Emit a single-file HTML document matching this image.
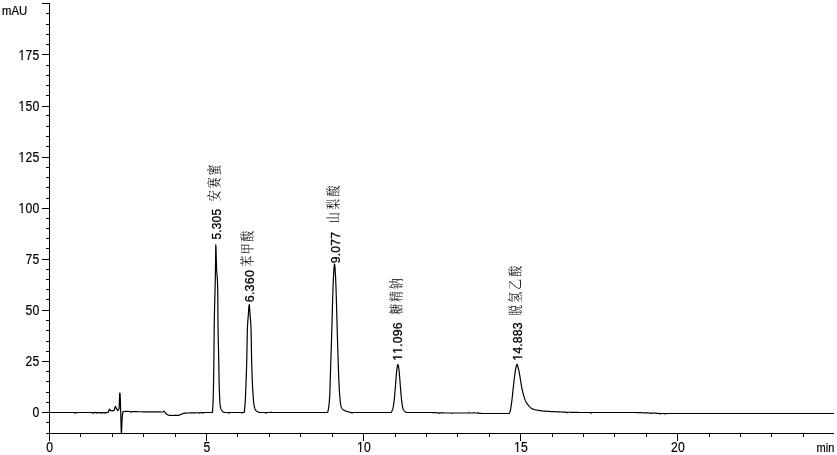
<!DOCTYPE html>
<html><head><meta charset="utf-8"><title>Chromatogram</title>
<style>html,body{margin:0;padding:0;background:#fff}body{width:837px;height:455px;overflow:hidden}svg{will-change:transform}</style>
</head><body>
<svg width="837" height="455" viewBox="0 0 837 455" style="display:block">
<rect width="100%" height="100%" fill="#fff"/>
<g stroke="#000" stroke-width="1" fill="none" shape-rendering="crispEdges">
<path d="M49.5 3 V441"/>
<path d="M46 433.5 H834"/>
<path d="M46 422.5 H49"/>
<path d="M42 412.5 H49"/>
<path d="M46 402.5 H49"/>
<path d="M46 392.5 H49"/>
<path d="M46 381.5 H49"/>
<path d="M46 371.5 H49"/>
<path d="M42 361.5 H49"/>
<path d="M46 351.5 H49"/>
<path d="M46 341.5 H49"/>
<path d="M46 330.5 H49"/>
<path d="M46 320.5 H49"/>
<path d="M42 310.5 H49"/>
<path d="M46 299.5 H49"/>
<path d="M46 289.5 H49"/>
<path d="M46 279.5 H49"/>
<path d="M46 269.5 H49"/>
<path d="M42 259.5 H49"/>
<path d="M46 248.5 H49"/>
<path d="M46 238.5 H49"/>
<path d="M46 228.5 H49"/>
<path d="M46 218.5 H49"/>
<path d="M42 208.5 H49"/>
<path d="M46 198.5 H49"/>
<path d="M46 187.5 H49"/>
<path d="M46 177.5 H49"/>
<path d="M46 167.5 H49"/>
<path d="M42 157.5 H49"/>
<path d="M46 146.5 H49"/>
<path d="M46 136.5 H49"/>
<path d="M46 126.5 H49"/>
<path d="M46 115.5 H49"/>
<path d="M42 106.5 H49"/>
<path d="M46 95.5 H49"/>
<path d="M46 85.5 H49"/>
<path d="M46 75.5 H49"/>
<path d="M46 65.5 H49"/>
<path d="M42 54.5 H49"/>
<path d="M46 44.5 H49"/>
<path d="M46 34.5 H49"/>
<path d="M46 24.5 H49"/>
<path d="M46 13.5 H49"/>
<path d="M42 3.5 H49"/>
<path d="M80.5 433 V437"/>
<path d="M112.5 433 V437"/>
<path d="M143.5 433 V437"/>
<path d="M175.5 433 V437"/>
<path d="M206.5 433 V441"/>
<path d="M237.5 433 V437"/>
<path d="M269.5 433 V437"/>
<path d="M300.5 433 V437"/>
<path d="M332.5 433 V437"/>
<path d="M363.5 433 V441"/>
<path d="M395.5 433 V437"/>
<path d="M426.5 433 V437"/>
<path d="M457.5 433 V437"/>
<path d="M489.5 433 V437"/>
<path d="M520.5 433 V441"/>
<path d="M552.5 433 V437"/>
<path d="M583.5 433 V437"/>
<path d="M614.5 433 V437"/>
<path d="M646.5 433 V437"/>
<path d="M677.5 433 V441"/>
<path d="M709.5 433 V437"/>
<path d="M740.5 433 V437"/>
<path d="M771.5 433 V437"/>
<path d="M803.5 433 V437"/>
</g>
<path d="M49.50 412.50 L49.75 412.50 L50.00 412.50 L50.25 412.50 L50.50 412.50 L50.75 412.50 L51.00 412.50 L51.25 412.50 L51.50 412.50 L51.75 412.50 L52.00 412.50 L52.25 412.50 L52.50 412.50 L52.75 412.50 L53.00 412.50 L53.25 412.50 L53.50 412.50 L53.75 412.50 L54.00 412.50 L54.25 412.50 L54.50 412.50 L54.75 412.50 L55.00 412.50 L55.25 412.50 L55.50 412.50 L55.75 412.50 L56.00 412.50 L56.25 412.50 L56.50 412.50 L56.75 412.50 L57.00 412.50 L57.25 412.50 L57.50 412.50 L57.75 412.50 L58.00 412.50 L58.25 412.50 L58.50 412.50 L58.75 412.50 L59.00 412.50 L59.25 412.50 L59.50 412.50 L59.75 412.50 L60.00 412.50 L60.25 412.50 L60.50 412.50 L60.75 412.50 L61.00 412.50 L61.25 412.50 L61.50 412.50 L61.75 412.50 L62.00 412.50 L62.25 412.50 L62.50 412.50 L62.75 412.50 L63.00 412.50 L63.25 412.50 L63.50 412.50 L63.75 412.50 L64.00 412.50 L64.25 412.50 L64.50 412.50 L64.75 412.50 L65.00 412.50 L65.25 412.50 L65.50 412.50 L65.75 412.50 L66.00 412.50 L66.25 412.50 L66.50 412.50 L66.75 412.50 L67.00 412.50 L67.25 412.50 L67.50 412.50 L67.75 412.50 L68.00 412.50 L68.25 412.50 L68.50 412.50 L68.75 412.50 L69.00 412.50 L69.25 412.50 L69.50 412.50 L69.75 412.50 L70.00 412.50 L70.25 412.50 L70.50 412.50 L70.75 412.50 L71.00 412.50 L71.25 412.50 L71.50 412.50 L71.75 412.50 L72.00 412.50 L72.25 412.50 L72.50 412.50 L72.75 412.50 L73.00 412.50 L73.25 412.50 L73.50 412.50 L73.75 412.53 L74.00 412.62 L74.25 412.81 L74.50 412.98 L74.75 412.96 L75.00 412.76 L75.25 412.60 L75.50 412.56 L75.75 412.65 L76.00 412.85 L76.25 413.00 L76.50 412.93 L76.75 412.72 L77.00 412.57 L77.25 412.51 L77.50 412.50 L77.75 412.50 L78.00 412.50 L78.25 412.50 L78.50 412.50 L78.75 412.50 L79.00 412.50 L79.25 412.50 L79.50 412.50 L79.75 412.50 L80.00 412.50 L80.25 412.50 L80.50 412.50 L80.75 412.50 L81.00 412.50 L81.25 412.50 L81.50 412.50 L81.75 412.50 L82.00 412.50 L82.25 412.50 L82.50 412.50 L82.75 412.50 L83.00 412.50 L83.25 412.50 L83.50 412.50 L83.75 412.50 L84.00 412.50 L84.25 412.50 L84.50 412.50 L84.75 412.50 L85.00 412.50 L85.25 412.50 L85.50 412.50 L85.75 412.50 L86.00 412.50 L86.25 412.50 L86.50 412.50 L86.75 412.50 L87.00 412.50 L87.25 412.50 L87.50 412.50 L87.75 412.50 L88.00 412.50 L88.25 412.50 L88.50 412.50 L88.75 412.50 L89.00 412.50 L89.25 412.50 L89.50 412.50 L89.75 412.50 L90.00 412.50 L90.25 412.50 L90.50 412.50 L90.75 412.50 L91.00 412.50 L91.25 412.50 L91.50 412.51 L91.75 412.56 L92.00 412.72 L92.25 412.97 L92.50 413.10 L92.75 412.97 L93.00 412.72 L93.25 412.56 L93.50 412.52 L93.75 412.55 L94.00 412.68 L94.25 412.89 L94.50 412.99 L94.75 412.86 L95.00 412.57 L95.25 412.32 L95.50 412.21 L95.75 412.27 L96.00 412.40 L96.25 412.53 L96.50 412.72 L96.75 412.97 L97.00 413.10 L97.25 412.97 L97.50 412.72 L97.75 412.56 L98.00 412.51 L98.25 412.50 L98.50 412.51 L98.75 412.55 L99.00 412.68 L99.25 412.89 L99.50 413.00 L99.75 412.89 L100.00 412.68 L100.25 412.55 L100.50 412.52 L100.75 412.56 L101.00 412.72 L101.25 412.97 L101.50 413.10 L101.75 412.97 L102.00 412.72 L102.25 412.56 L102.50 412.51 L102.75 412.50 L103.00 412.51 L103.25 412.57 L103.50 412.76 L103.75 413.05 L104.00 413.20 L104.25 413.05 L104.50 412.76 L104.75 412.57 L105.00 412.52 L105.25 412.55 L105.50 412.68 L105.75 412.89 L106.00 413.00 L106.25 412.87 L106.50 412.64 L106.75 412.49 L107.00 412.42 L107.25 412.39 L107.50 412.37 L107.75 412.35 L108.00 412.33 L108.25 412.30 L108.50 411.68 L108.75 410.91 L109.00 410.14 L109.25 409.36 L109.50 409.05 L109.75 409.43 L110.00 409.80 L110.25 410.18 L110.50 410.55 L110.75 410.70 L111.00 410.70 L111.25 410.70 L111.50 410.70 L111.75 410.70 L112.00 410.70 L112.25 410.70 L112.50 410.70 L112.75 410.70 L113.00 410.70 L113.25 410.70 L113.50 410.70 L113.75 410.70 L114.00 410.70 L114.25 409.90 L114.50 409.09 L114.75 408.29 L115.00 407.49 L115.25 406.68 L115.50 406.43 L115.75 407.02 L116.00 407.60 L116.25 408.18 L116.50 408.77 L116.75 409.21 L117.00 409.57 L117.25 409.92 L117.50 410.27 L117.75 410.63 L118.00 410.30 L118.25 409.80 L118.50 409.30 L118.75 409.02 L119.00 408.90 L119.25 406.83 L119.50 396.95 L119.75 393.00 L120.00 393.00 L120.25 397.35 L120.50 404.60 L120.75 413.18 L121.00 422.64 L121.25 432.11 L121.50 433.00 L121.75 427.25 L122.00 420.50 L122.25 417.37 L122.50 414.25 L122.75 412.65 L123.00 412.07 L123.25 411.59 L123.50 411.57 L123.75 411.54 L124.00 411.51 L124.25 411.48 L124.50 411.46 L124.75 411.43 L125.00 411.40 L125.25 411.40 L125.50 411.41 L125.75 411.42 L126.00 411.42 L126.25 411.43 L126.50 411.43 L126.75 411.44 L127.00 411.44 L127.25 411.44 L127.50 411.45 L127.75 411.45 L128.00 411.46 L128.25 411.46 L128.50 411.47 L128.75 411.48 L129.00 411.48 L129.25 411.49 L129.50 411.49 L129.75 411.50 L130.00 411.50 L130.25 411.66 L130.50 411.82 L130.75 411.98 L131.00 412.14 L131.25 412.10 L131.50 411.95 L131.75 411.79 L132.00 411.63 L132.25 411.50 L132.50 411.52 L132.75 411.54 L133.00 411.56 L133.25 411.57 L133.50 411.59 L133.75 411.61 L134.00 411.63 L134.25 411.65 L134.50 411.66 L134.75 411.68 L135.00 411.70 L135.25 411.70 L135.50 411.71 L135.75 411.71 L136.00 411.71 L136.25 411.71 L136.50 411.72 L136.75 411.72 L137.00 411.72 L137.25 411.72 L137.50 411.73 L137.75 411.73 L138.00 411.73 L138.25 411.73 L138.50 411.74 L138.75 411.74 L139.00 411.74 L139.25 411.75 L139.50 411.75 L139.75 411.75 L140.00 411.75 L140.25 411.76 L140.50 411.76 L140.75 411.76 L141.00 411.76 L141.25 411.77 L141.50 411.77 L141.75 411.77 L142.00 411.77 L142.25 411.78 L142.50 411.78 L142.75 411.78 L143.00 411.79 L143.25 411.79 L143.50 411.79 L143.75 411.79 L144.00 411.80 L144.25 411.80 L144.50 411.80 L144.75 411.80 L145.00 411.81 L145.25 411.81 L145.50 411.81 L145.75 411.82 L146.00 411.82 L146.25 411.82 L146.50 411.82 L146.75 411.83 L147.00 411.83 L147.25 411.83 L147.50 411.83 L147.75 411.84 L148.00 411.84 L148.25 411.84 L148.50 411.84 L148.75 411.85 L149.00 411.85 L149.25 411.85 L149.50 411.86 L149.75 411.86 L150.00 411.86 L150.25 411.86 L150.50 411.87 L150.75 411.87 L151.00 411.87 L151.25 411.87 L151.50 411.88 L151.75 411.88 L152.00 411.88 L152.25 411.88 L152.50 411.89 L152.75 411.89 L153.00 411.89 L153.25 411.90 L153.50 411.90 L153.75 411.90 L154.00 411.90 L154.25 411.91 L154.50 411.91 L154.75 411.91 L155.00 411.91 L155.25 411.92 L155.50 411.92 L155.75 411.92 L156.00 411.93 L156.25 411.93 L156.50 411.93 L156.75 411.93 L157.00 411.94 L157.25 411.94 L157.50 411.94 L157.75 411.94 L158.00 411.95 L158.25 411.95 L158.50 411.95 L158.75 411.95 L159.00 411.96 L159.25 411.96 L159.50 411.96 L159.75 411.97 L160.00 411.97 L160.25 411.97 L160.50 411.97 L160.75 411.98 L161.00 411.98 L161.25 411.98 L161.50 411.98 L161.75 411.99 L162.00 411.99 L162.25 411.99 L162.50 411.99 L162.75 412.00 L163.00 412.00 L163.25 411.80 L163.50 411.60 L163.75 411.40 L164.00 411.20 L164.25 411.43 L164.50 411.65 L164.75 411.88 L165.00 412.10 L165.25 412.43 L165.50 412.77 L165.75 413.10 L166.00 413.43 L166.25 413.77 L166.50 414.10 L166.75 414.25 L167.00 414.41 L167.25 414.56 L167.50 414.71 L167.75 414.86 L168.00 415.02 L168.25 415.17 L168.50 415.22 L168.75 415.24 L169.00 415.26 L169.25 415.28 L169.50 415.30 L169.75 415.32 L170.00 415.34 L170.25 415.36 L170.50 415.38 L170.75 415.40 L171.00 415.42 L171.25 415.44 L171.50 415.46 L171.75 415.48 L172.00 415.50 L172.25 415.50 L172.50 415.49 L172.75 415.49 L173.00 415.48 L173.25 415.48 L173.50 415.48 L173.75 415.47 L174.00 415.47 L174.25 415.47 L174.50 415.46 L174.75 415.46 L175.00 415.45 L175.25 415.45 L175.50 415.45 L175.75 415.44 L176.00 415.44 L176.25 415.44 L176.50 415.43 L176.75 415.43 L177.00 415.42 L177.25 415.42 L177.50 415.42 L177.75 415.41 L178.00 415.41 L178.25 415.41 L178.50 415.40 L178.75 415.33 L179.00 415.22 L179.25 415.10 L179.50 414.99 L179.75 414.87 L180.00 414.76 L180.25 414.64 L180.50 414.53 L180.75 414.41 L181.00 414.30 L181.25 414.21 L181.50 414.12 L181.75 414.03 L182.00 413.94 L182.25 413.85 L182.50 413.75 L182.75 413.66 L183.00 413.57 L183.25 413.48 L183.50 413.39 L183.75 413.30 L184.00 413.21 L184.25 413.12 L184.50 413.09 L184.75 413.09 L185.00 413.08 L185.25 413.07 L185.50 413.07 L185.75 413.06 L186.00 413.05 L186.25 413.05 L186.50 413.04 L186.75 413.03 L187.00 413.02 L187.25 413.02 L187.50 413.01 L187.75 413.00 L188.00 413.00 L188.25 412.99 L188.50 412.98 L188.75 412.98 L189.00 412.97 L189.25 412.96 L189.50 412.95 L189.75 412.95 L190.00 412.94 L190.25 412.93 L190.50 412.93 L190.75 412.92 L191.00 412.91 L191.25 412.91 L191.50 412.90 L191.75 412.89 L192.00 412.88 L192.25 412.88 L192.50 412.87 L192.75 412.86 L193.00 412.86 L193.25 412.85 L193.50 412.84 L193.75 412.84 L194.00 412.83 L194.25 412.82 L194.50 412.81 L194.75 412.81 L195.00 412.80 L195.25 412.79 L195.50 412.79 L195.75 412.78 L196.00 412.77 L196.25 412.76 L196.50 412.76 L196.75 412.75 L197.00 412.74 L197.25 412.73 L197.50 412.73 L197.75 412.72 L198.00 412.72 L198.25 412.76 L198.50 412.88 L198.75 413.08 L199.00 413.18 L199.25 413.06 L199.50 412.85 L199.75 412.71 L200.00 412.66 L200.25 412.64 L200.50 412.64 L200.75 412.63 L201.00 412.62 L201.25 412.61 L201.50 412.61 L201.75 412.60 L202.00 412.60 L202.25 412.65 L202.50 412.80 L202.75 413.03 L203.00 413.16 L203.25 413.02 L203.50 412.77 L203.75 412.60 L204.00 412.54 L204.25 412.52 L204.50 412.52 L204.75 412.51 L205.00 412.50 L205.25 412.50 L205.50 412.50 L205.75 412.50 L206.00 412.50 L206.25 412.50 L206.50 412.50 L206.75 412.50 L207.00 412.50 L207.25 412.50 L207.50 412.50 L207.75 412.50 L208.00 412.50 L208.25 412.50 L208.50 412.50 L208.75 412.50 L209.00 412.50 L209.25 412.50 L209.50 412.50 L209.75 412.50 L210.00 412.50 L210.25 412.50 L210.50 412.50 L210.75 412.50 L211.00 412.50 L211.25 412.50 L211.50 412.50 L211.75 412.50 L212.00 412.50 L212.25 412.50 L212.50 411.50 L212.75 408.22 L213.00 403.72 L213.25 396.04 L213.50 385.48 L213.75 369.87 L214.00 348.31 L214.25 323.14 L214.50 310.48 L214.75 301.14 L215.00 291.90 L215.25 280.53 L215.50 267.25 L215.75 244.92 L216.00 247.34 L216.25 257.96 L216.50 267.25 L216.75 271.70 L217.00 274.53 L217.25 277.34 L217.50 281.75 L217.75 291.13 L218.00 326.36 L218.25 339.56 L218.50 348.97 L218.75 361.67 L219.00 376.61 L219.25 386.99 L219.50 394.00 L219.75 399.78 L220.00 403.91 L220.25 406.01 L220.50 407.21 L220.75 408.19 L221.00 408.97 L221.25 409.58 L221.50 410.05 L221.75 410.41 L222.00 410.70 L222.25 410.98 L222.50 411.24 L222.75 411.48 L223.00 411.69 L223.25 411.89 L223.50 412.06 L223.75 412.21 L224.00 412.33 L224.25 412.42 L224.50 412.47 L224.75 412.50 L225.00 412.50 L225.25 412.50 L225.50 412.50 L225.75 412.50 L226.00 412.50 L226.25 412.50 L226.50 412.50 L226.75 412.50 L227.00 412.50 L227.25 412.50 L227.50 412.50 L227.75 412.50 L228.00 412.51 L228.25 412.56 L228.50 412.72 L228.75 412.97 L229.00 413.10 L229.25 412.97 L229.50 412.72 L229.75 412.56 L230.00 412.51 L230.25 412.50 L230.50 412.50 L230.75 412.50 L231.00 412.50 L231.25 412.50 L231.50 412.50 L231.75 412.50 L232.00 412.50 L232.25 412.50 L232.50 412.50 L232.75 412.50 L233.00 412.50 L233.25 412.50 L233.50 412.50 L233.75 412.50 L234.00 412.50 L234.25 412.50 L234.50 412.50 L234.75 412.50 L235.00 412.50 L235.25 412.50 L235.50 412.50 L235.75 412.50 L236.00 412.50 L236.25 412.50 L236.50 412.50 L236.75 412.50 L237.00 412.50 L237.25 412.50 L237.50 412.50 L237.75 412.50 L238.00 412.50 L238.25 412.50 L238.50 412.50 L238.75 412.50 L239.00 412.50 L239.25 412.50 L239.50 412.50 L239.75 412.50 L240.00 412.50 L240.25 412.50 L240.50 412.50 L240.75 412.50 L241.00 412.51 L241.25 412.55 L241.50 412.68 L241.75 412.89 L242.00 413.00 L242.25 412.89 L242.50 412.68 L242.75 412.55 L243.00 412.51 L243.25 412.50 L243.50 412.50 L243.75 412.50 L244.00 412.50 L244.25 411.77 L244.50 410.05 L244.75 407.67 L245.00 404.94 L245.25 401.19 L245.50 395.95 L245.75 389.80 L246.00 383.34 L246.25 376.64 L246.50 369.11 L246.75 360.41 L247.00 348.24 L247.25 333.85 L247.50 326.11 L247.75 321.95 L248.00 318.85 L248.25 315.94 L248.50 312.35 L248.75 308.43 L249.00 305.41 L249.25 304.56 L249.50 306.43 L249.75 309.96 L250.00 313.90 L250.25 317.14 L250.50 320.02 L250.75 323.44 L251.00 328.26 L251.25 339.25 L251.50 353.88 L251.75 364.19 L252.00 372.84 L252.25 379.99 L252.50 385.28 L252.75 389.88 L253.00 394.06 L253.25 397.73 L253.50 400.82 L253.75 403.25 L254.00 404.94 L254.25 406.17 L254.50 407.26 L254.75 408.20 L255.00 409.00 L255.25 409.63 L255.50 410.09 L255.75 410.39 L256.00 410.61 L256.25 410.83 L256.50 411.03 L256.75 411.22 L257.00 411.39 L257.25 411.56 L257.50 411.71 L257.75 411.85 L258.00 411.97 L258.25 412.08 L258.50 412.18 L258.75 412.27 L259.00 412.34 L259.25 412.40 L259.50 412.45 L259.75 412.48 L260.00 412.50 L260.25 412.50 L260.50 412.50 L260.75 412.50 L261.00 412.50 L261.25 412.50 L261.50 412.50 L261.75 412.50 L262.00 412.50 L262.25 412.50 L262.50 412.50 L262.75 412.50 L263.00 412.50 L263.25 412.50 L263.50 412.50 L263.75 412.50 L264.00 412.50 L264.25 412.50 L264.50 412.50 L264.75 412.50 L265.00 412.51 L265.25 412.57 L265.50 412.76 L265.75 413.05 L266.00 413.20 L266.25 413.05 L266.50 412.76 L266.75 412.57 L267.00 412.51 L267.25 412.50 L267.50 412.50 L267.75 412.50 L268.00 412.50 L268.25 412.50 L268.50 412.50 L268.75 412.50 L269.00 412.50 L269.25 412.50 L269.50 412.50 L269.75 412.50 L270.00 412.49 L270.25 412.46 L270.50 412.35 L270.75 412.19 L271.00 412.10 L271.25 412.19 L271.50 412.35 L271.75 412.46 L272.00 412.49 L272.25 412.50 L272.50 412.50 L272.75 412.50 L273.00 412.50 L273.25 412.50 L273.50 412.50 L273.75 412.50 L274.00 412.50 L274.25 412.50 L274.50 412.50 L274.75 412.50 L275.00 412.50 L275.25 412.50 L275.50 412.50 L275.75 412.50 L276.00 412.50 L276.25 412.50 L276.50 412.50 L276.75 412.50 L277.00 412.50 L277.25 412.50 L277.50 412.50 L277.75 412.50 L278.00 412.50 L278.25 412.50 L278.50 412.50 L278.75 412.50 L279.00 412.50 L279.25 412.50 L279.50 412.50 L279.75 412.50 L280.00 412.50 L280.25 412.50 L280.50 412.50 L280.75 412.50 L281.00 412.50 L281.25 412.50 L281.50 412.50 L281.75 412.50 L282.00 412.50 L282.25 412.50 L282.50 412.50 L282.75 412.50 L283.00 412.50 L283.25 412.50 L283.50 412.50 L283.75 412.50 L284.00 412.50 L284.25 412.50 L284.50 412.50 L284.75 412.50 L285.00 412.50 L285.25 412.50 L285.50 412.50 L285.75 412.50 L286.00 412.50 L286.25 412.50 L286.50 412.50 L286.75 412.50 L287.00 412.50 L287.25 412.50 L287.50 412.50 L287.75 412.50 L288.00 412.50 L288.25 412.50 L288.50 412.50 L288.75 412.50 L289.00 412.50 L289.25 412.50 L289.50 412.50 L289.75 412.50 L290.00 412.50 L290.25 412.50 L290.50 412.50 L290.75 412.50 L291.00 412.50 L291.25 412.50 L291.50 412.50 L291.75 412.50 L292.00 412.50 L292.25 412.50 L292.50 412.50 L292.75 412.50 L293.00 412.50 L293.25 412.50 L293.50 412.50 L293.75 412.50 L294.00 412.50 L294.25 412.50 L294.50 412.50 L294.75 412.50 L295.00 412.50 L295.25 412.50 L295.50 412.50 L295.75 412.50 L296.00 412.50 L296.25 412.50 L296.50 412.50 L296.75 412.50 L297.00 412.50 L297.25 412.50 L297.50 412.50 L297.75 412.50 L298.00 412.50 L298.25 412.50 L298.50 412.50 L298.75 412.50 L299.00 412.50 L299.25 412.50 L299.50 412.50 L299.75 412.50 L300.00 412.50 L300.25 412.50 L300.50 412.50 L300.75 412.50 L301.00 412.50 L301.25 412.50 L301.50 412.50 L301.75 412.50 L302.00 412.50 L302.25 412.50 L302.50 412.50 L302.75 412.50 L303.00 412.50 L303.25 412.50 L303.50 412.50 L303.75 412.50 L304.00 412.50 L304.25 412.50 L304.50 412.50 L304.75 412.50 L305.00 412.50 L305.25 412.50 L305.50 412.50 L305.75 412.50 L306.00 412.50 L306.25 412.50 L306.50 412.50 L306.75 412.50 L307.00 412.50 L307.25 412.50 L307.50 412.50 L307.75 412.50 L308.00 412.50 L308.25 412.50 L308.50 412.50 L308.75 412.50 L309.00 412.50 L309.25 412.50 L309.50 412.50 L309.75 412.50 L310.00 412.50 L310.25 412.50 L310.50 412.50 L310.75 412.50 L311.00 412.50 L311.25 412.50 L311.50 412.50 L311.75 412.50 L312.00 412.50 L312.25 412.50 L312.50 412.50 L312.75 412.50 L313.00 412.50 L313.25 412.50 L313.50 412.50 L313.75 412.50 L314.00 412.50 L314.25 412.50 L314.50 412.50 L314.75 412.50 L315.00 412.50 L315.25 412.50 L315.50 412.50 L315.75 412.50 L316.00 412.50 L316.25 412.50 L316.50 412.50 L316.75 412.50 L317.00 412.50 L317.25 412.50 L317.50 412.50 L317.75 412.50 L318.00 412.50 L318.25 412.50 L318.50 412.50 L318.75 412.50 L319.00 412.50 L319.25 412.50 L319.50 412.50 L319.75 412.50 L320.00 412.50 L320.25 412.50 L320.50 412.50 L320.75 412.50 L321.00 412.50 L321.25 412.50 L321.50 412.50 L321.75 412.50 L322.00 412.50 L322.25 412.50 L322.50 412.50 L322.75 412.50 L323.00 412.50 L323.25 412.50 L323.50 412.50 L323.75 412.50 L324.00 412.50 L324.25 412.50 L324.50 412.50 L324.75 412.50 L325.00 412.50 L325.25 412.50 L325.50 412.50 L325.75 412.50 L326.00 412.50 L326.25 412.50 L326.50 412.50 L326.75 412.50 L327.00 412.50 L327.25 412.50 L327.50 412.50 L327.75 412.06 L328.00 411.20 L328.25 410.01 L328.50 408.63 L328.75 407.08 L329.00 405.04 L329.25 402.41 L329.50 399.15 L329.75 394.66 L330.00 387.48 L330.25 379.04 L330.50 371.03 L330.75 363.49 L331.00 355.89 L331.25 348.13 L331.50 340.11 L331.75 331.60 L332.00 322.52 L332.25 313.35 L332.50 304.55 L332.75 296.28 L333.00 288.01 L333.25 281.01 L333.50 276.10 L333.75 271.59 L334.00 267.72 L334.25 265.02 L334.50 264.00 L334.75 265.02 L335.00 267.72 L335.25 271.59 L335.50 276.10 L335.75 281.01 L336.00 288.01 L336.25 296.28 L336.50 304.55 L336.75 313.35 L337.00 322.52 L337.25 331.60 L337.50 340.13 L337.75 348.52 L338.00 356.78 L338.25 364.50 L338.50 371.30 L338.75 377.24 L339.00 382.91 L339.25 388.13 L339.50 392.67 L339.75 396.33 L340.00 399.03 L340.25 401.39 L340.50 403.43 L340.75 405.08 L341.00 406.24 L341.25 406.95 L341.50 407.52 L341.75 408.00 L342.00 408.42 L342.25 408.77 L342.50 409.06 L342.75 409.31 L343.00 409.53 L343.25 409.73 L343.50 409.91 L343.75 410.08 L344.00 410.24 L344.25 410.38 L344.50 410.52 L344.75 410.65 L345.00 410.76 L345.25 410.87 L345.50 410.97 L345.75 411.07 L346.00 411.15 L346.25 411.24 L346.50 411.31 L346.75 411.39 L347.00 411.46 L347.25 411.53 L347.50 411.61 L347.75 411.68 L348.00 411.75 L348.25 411.82 L348.50 411.88 L348.75 411.95 L349.00 412.01 L349.25 412.07 L349.50 412.13 L349.75 412.18 L350.00 412.23 L350.25 412.28 L350.50 412.32 L350.75 412.36 L351.00 412.41 L351.25 412.49 L351.50 412.67 L351.75 412.94 L352.00 413.09 L352.25 412.96 L352.50 412.72 L352.75 412.56 L353.00 412.51 L353.25 412.50 L353.50 412.50 L353.75 412.50 L354.00 412.50 L354.25 412.50 L354.50 412.50 L354.75 412.50 L355.00 412.50 L355.25 412.50 L355.50 412.50 L355.75 412.50 L356.00 412.50 L356.25 412.50 L356.50 412.50 L356.75 412.50 L357.00 412.50 L357.25 412.50 L357.50 412.50 L357.75 412.50 L358.00 412.50 L358.25 412.50 L358.50 412.50 L358.75 412.50 L359.00 412.50 L359.25 412.50 L359.50 412.50 L359.75 412.50 L360.00 412.50 L360.25 412.50 L360.50 412.50 L360.75 412.50 L361.00 412.50 L361.25 412.50 L361.50 412.50 L361.75 412.50 L362.00 412.50 L362.25 412.50 L362.50 412.50 L362.75 412.50 L363.00 412.50 L363.25 412.50 L363.50 412.50 L363.75 412.50 L364.00 412.50 L364.25 412.50 L364.50 412.50 L364.75 412.50 L365.00 412.50 L365.25 412.50 L365.50 412.50 L365.75 412.50 L366.00 412.50 L366.25 412.50 L366.50 412.50 L366.75 412.50 L367.00 412.50 L367.25 412.50 L367.50 412.50 L367.75 412.50 L368.00 412.50 L368.25 412.50 L368.50 412.50 L368.75 412.50 L369.00 412.50 L369.25 412.50 L369.50 412.50 L369.75 412.50 L370.00 412.50 L370.25 412.50 L370.50 412.50 L370.75 412.50 L371.00 412.50 L371.25 412.50 L371.50 412.50 L371.75 412.50 L372.00 412.50 L372.25 412.50 L372.50 412.50 L372.75 412.50 L373.00 412.50 L373.25 412.50 L373.50 412.50 L373.75 412.50 L374.00 412.50 L374.25 412.50 L374.50 412.50 L374.75 412.50 L375.00 412.50 L375.25 412.50 L375.50 412.50 L375.75 412.50 L376.00 412.50 L376.25 412.50 L376.50 412.50 L376.75 412.50 L377.00 412.50 L377.25 412.50 L377.50 412.50 L377.75 412.50 L378.00 412.50 L378.25 412.50 L378.50 412.50 L378.75 412.50 L379.00 412.50 L379.25 412.50 L379.50 412.50 L379.75 412.50 L380.00 412.50 L380.25 412.50 L380.50 412.50 L380.75 412.50 L381.00 412.50 L381.25 412.50 L381.50 412.50 L381.75 412.50 L382.00 412.50 L382.25 412.50 L382.50 412.50 L382.75 412.50 L383.00 412.50 L383.25 412.50 L383.50 412.50 L383.75 412.50 L384.00 412.50 L384.25 412.50 L384.50 412.50 L384.75 412.50 L385.00 412.50 L385.25 412.50 L385.50 412.50 L385.75 412.50 L386.00 412.50 L386.25 412.50 L386.50 412.50 L386.75 412.50 L387.00 412.50 L387.25 412.50 L387.50 412.50 L387.75 412.50 L388.00 412.50 L388.25 412.50 L388.50 412.50 L388.75 412.50 L389.00 412.50 L389.25 412.50 L389.50 412.50 L389.75 412.50 L390.00 412.50 L390.25 412.50 L390.50 412.50 L390.75 412.50 L391.00 412.50 L391.25 412.50 L391.50 412.09 L391.75 411.53 L392.00 410.91 L392.25 410.29 L392.50 409.63 L392.75 408.88 L393.00 407.99 L393.25 406.86 L393.50 405.40 L393.75 403.66 L394.00 401.71 L394.25 399.62 L394.50 397.25 L394.75 394.49 L395.00 391.52 L395.25 388.51 L395.50 385.39 L395.75 382.09 L396.00 378.85 L396.25 375.83 L396.50 372.84 L396.75 370.22 L397.00 368.41 L397.25 366.80 L397.50 365.47 L397.75 364.65 L398.00 364.57 L398.25 365.26 L398.50 366.50 L398.75 368.08 L399.00 369.79 L399.25 372.26 L399.50 375.24 L399.75 378.22 L400.00 381.43 L400.25 384.73 L400.50 387.91 L400.75 390.92 L401.00 393.91 L401.25 396.72 L401.50 399.18 L401.75 401.31 L402.00 403.34 L402.25 405.16 L402.50 406.68 L402.75 407.78 L403.00 408.62 L403.25 409.36 L403.50 409.95 L403.75 410.40 L404.00 410.68 L404.25 410.92 L404.50 411.14 L404.75 411.35 L405.00 411.55 L405.25 411.73 L405.50 411.89 L405.75 412.03 L406.00 412.16 L406.25 412.27 L406.50 412.36 L406.75 412.42 L407.00 412.47 L407.25 412.50 L407.50 412.50 L407.75 412.50 L408.00 412.50 L408.25 412.50 L408.50 412.50 L408.75 412.50 L409.00 412.50 L409.25 412.50 L409.50 412.50 L409.75 412.50 L410.00 412.50 L410.25 412.50 L410.50 412.50 L410.75 412.50 L411.00 412.50 L411.25 412.50 L411.50 412.50 L411.75 412.50 L412.00 412.50 L412.25 412.50 L412.50 412.50 L412.75 412.50 L413.00 412.50 L413.25 412.50 L413.50 412.50 L413.75 412.50 L414.00 412.50 L414.25 412.50 L414.50 412.50 L414.75 412.50 L415.00 412.50 L415.25 412.50 L415.50 412.50 L415.75 412.50 L416.00 412.50 L416.25 412.50 L416.50 412.50 L416.75 412.50 L417.00 412.50 L417.25 412.50 L417.50 412.50 L417.75 412.50 L418.00 412.50 L418.25 412.50 L418.50 412.50 L418.75 412.50 L419.00 412.50 L419.25 412.50 L419.50 412.50 L419.75 412.50 L420.00 412.50 L420.25 412.50 L420.50 412.50 L420.75 412.50 L421.00 412.50 L421.25 412.50 L421.50 412.50 L421.75 412.50 L422.00 412.50 L422.25 412.50 L422.50 412.50 L422.75 412.50 L423.00 412.50 L423.25 412.50 L423.50 412.50 L423.75 412.50 L424.00 412.50 L424.25 412.50 L424.50 412.50 L424.75 412.50 L425.00 412.50 L425.25 412.50 L425.50 412.50 L425.75 412.50 L426.00 412.50 L426.25 412.50 L426.50 412.50 L426.75 412.50 L427.00 412.50 L427.25 412.50 L427.50 412.50 L427.75 412.50 L428.00 412.50 L428.25 412.50 L428.50 412.50 L428.75 412.50 L429.00 412.50 L429.25 412.50 L429.50 412.50 L429.75 412.50 L430.00 412.50 L430.25 412.50 L430.50 412.50 L430.75 412.50 L431.00 412.50 L431.25 412.50 L431.50 412.50 L431.75 412.50 L432.00 412.50 L432.25 412.51 L432.50 412.52 L432.75 412.54 L433.00 412.55 L433.25 412.56 L433.50 412.57 L433.75 412.59 L434.00 412.60 L434.25 412.61 L434.50 412.62 L434.75 412.64 L435.00 412.65 L435.25 412.66 L435.50 412.68 L435.75 412.69 L436.00 412.70 L436.25 412.71 L436.50 412.73 L436.75 412.74 L437.00 412.75 L437.25 412.76 L437.50 412.78 L437.75 412.79 L438.00 412.81 L438.25 412.87 L438.50 413.01 L438.75 413.23 L439.00 413.35 L439.25 413.25 L439.50 413.06 L439.75 412.94 L440.00 412.91 L440.25 412.91 L440.50 412.93 L440.75 412.94 L441.00 412.95 L441.25 412.96 L441.50 412.97 L441.75 412.99 L442.00 412.99 L442.25 412.97 L442.50 412.89 L442.75 412.77 L443.00 412.70 L443.25 412.77 L443.50 412.89 L443.75 412.97 L444.00 412.99 L444.25 413.00 L444.50 413.00 L444.75 413.00 L445.00 413.00 L445.25 413.00 L445.50 413.00 L445.75 413.00 L446.00 413.00 L446.25 413.00 L446.50 413.00 L446.75 413.00 L447.00 413.00 L447.25 413.00 L447.50 413.00 L447.75 413.00 L448.00 413.00 L448.25 413.00 L448.50 413.00 L448.75 413.00 L449.00 413.00 L449.25 413.00 L449.50 413.00 L449.75 413.00 L450.00 413.00 L450.25 413.00 L450.50 413.00 L450.75 413.00 L451.00 413.01 L451.25 413.04 L451.50 413.15 L451.75 413.31 L452.00 413.40 L452.25 413.31 L452.50 413.15 L452.75 413.04 L453.00 413.01 L453.25 413.00 L453.50 413.00 L453.75 413.00 L454.00 413.00 L454.25 413.00 L454.50 413.00 L454.75 413.00 L455.00 413.00 L455.25 413.00 L455.50 413.00 L455.75 413.00 L456.00 413.00 L456.25 413.00 L456.50 413.00 L456.75 413.00 L457.00 413.00 L457.25 413.00 L457.50 413.00 L457.75 413.00 L458.00 413.00 L458.25 413.00 L458.50 413.00 L458.75 413.00 L459.00 413.00 L459.25 413.00 L459.50 413.00 L459.75 413.00 L460.00 413.00 L460.25 413.00 L460.50 413.00 L460.75 413.00 L461.00 413.00 L461.25 413.00 L461.50 413.00 L461.75 413.00 L462.00 413.00 L462.25 413.00 L462.50 413.00 L462.75 413.00 L463.00 413.00 L463.25 413.00 L463.50 413.00 L463.75 413.00 L464.00 413.00 L464.25 413.00 L464.50 413.00 L464.75 413.00 L465.00 413.00 L465.25 413.00 L465.50 413.00 L465.75 413.00 L466.00 413.00 L466.25 413.00 L466.50 413.00 L466.75 413.00 L467.00 413.00 L467.25 413.00 L467.50 413.00 L467.75 413.00 L468.00 412.99 L468.25 412.95 L468.50 412.82 L468.75 412.61 L469.00 412.50 L469.25 412.61 L469.50 412.82 L469.75 412.95 L470.00 412.99 L470.25 413.00 L470.50 413.00 L470.75 413.00 L471.00 413.00 L471.25 413.00 L471.50 413.00 L471.75 413.00 L472.00 413.00 L472.25 413.00 L472.50 413.00 L472.75 413.00 L473.00 412.99 L473.25 412.96 L473.50 412.85 L473.75 412.69 L474.00 412.60 L474.25 412.69 L474.50 412.85 L474.75 412.96 L475.00 412.99 L475.25 413.00 L475.50 413.00 L475.75 413.00 L476.00 413.00 L476.25 413.02 L476.50 413.04 L476.75 413.06 L477.00 413.07 L477.25 413.05 L477.50 412.94 L477.75 412.76 L478.00 412.67 L478.25 412.80 L478.50 413.02 L478.75 413.18 L479.00 413.24 L479.25 413.27 L479.50 413.29 L479.75 413.31 L480.00 413.33 L480.25 413.35 L480.50 413.37 L480.75 413.40 L481.00 413.42 L481.25 413.44 L481.50 413.46 L481.75 413.48 L482.00 413.50 L482.25 413.50 L482.50 413.50 L482.75 413.50 L483.00 413.50 L483.25 413.50 L483.50 413.50 L483.75 413.50 L484.00 413.50 L484.25 413.50 L484.50 413.50 L484.75 413.50 L485.00 413.50 L485.25 413.50 L485.50 413.50 L485.75 413.50 L486.00 413.50 L486.25 413.50 L486.50 413.50 L486.75 413.50 L487.00 413.50 L487.25 413.50 L487.50 413.50 L487.75 413.50 L488.00 413.50 L488.25 413.50 L488.50 413.50 L488.75 413.50 L489.00 413.50 L489.25 413.50 L489.50 413.50 L489.75 413.50 L490.00 413.50 L490.25 413.50 L490.50 413.50 L490.75 413.50 L491.00 413.50 L491.25 413.50 L491.50 413.50 L491.75 413.50 L492.00 413.50 L492.25 413.50 L492.50 413.50 L492.75 413.50 L493.00 413.50 L493.25 413.50 L493.50 413.50 L493.75 413.50 L494.00 413.50 L494.25 413.50 L494.50 413.50 L494.75 413.50 L495.00 413.50 L495.25 413.50 L495.50 413.50 L495.75 413.50 L496.00 413.50 L496.25 413.50 L496.50 413.50 L496.75 413.50 L497.00 413.50 L497.25 413.50 L497.50 413.50 L497.75 413.50 L498.00 413.50 L498.25 413.50 L498.50 413.50 L498.75 413.50 L499.00 413.50 L499.25 413.50 L499.50 413.50 L499.75 413.50 L500.00 413.50 L500.25 413.50 L500.50 413.50 L500.75 413.50 L501.00 413.50 L501.25 413.50 L501.50 413.50 L501.75 413.50 L502.00 413.50 L502.25 413.50 L502.50 413.50 L502.75 413.50 L503.00 413.50 L503.25 413.50 L503.50 413.50 L503.75 413.50 L504.00 413.50 L504.25 413.50 L504.50 413.50 L504.75 413.50 L505.00 413.50 L505.25 413.50 L505.50 413.50 L505.75 413.50 L506.00 413.50 L506.25 413.50 L506.50 413.50 L506.75 413.50 L507.00 413.50 L507.25 413.50 L507.50 413.50 L507.75 413.50 L508.00 413.50 L508.25 413.50 L508.50 413.50 L508.75 413.50 L509.00 413.50 L509.25 413.36 L509.50 412.96 L509.75 412.41 L510.00 411.75 L510.25 410.82 L510.50 409.65 L510.75 408.37 L511.00 406.91 L511.25 405.25 L511.50 403.45 L511.75 401.53 L512.00 399.53 L512.25 397.29 L512.50 394.87 L512.75 392.40 L513.00 389.98 L513.25 387.69 L513.50 385.38 L513.75 383.10 L514.00 380.87 L514.25 378.75 L514.50 376.77 L514.75 374.88 L515.00 373.05 L515.25 371.36 L515.50 369.89 L515.75 368.61 L516.00 367.31 L516.25 366.10 L516.50 365.11 L516.75 364.51 L517.00 364.42 L517.25 364.73 L517.50 365.34 L517.75 366.17 L518.00 367.13 L518.25 368.14 L518.50 369.13 L518.75 370.17 L519.00 371.37 L519.25 372.69 L519.50 374.08 L519.75 375.48 L520.00 376.88 L520.25 378.36 L520.50 379.93 L520.75 381.54 L521.00 383.15 L521.25 384.72 L521.50 386.21 L521.75 387.58 L522.00 388.80 L522.25 389.94 L522.50 391.04 L522.75 392.09 L523.00 393.09 L523.25 394.04 L523.50 394.95 L523.75 395.80 L524.00 396.60 L524.25 397.38 L524.50 398.14 L524.75 398.88 L525.00 399.59 L525.25 400.26 L525.50 400.88 L525.75 401.44 L526.00 401.93 L526.25 402.35 L526.50 402.73 L526.75 403.11 L527.00 403.48 L527.25 403.84 L527.50 404.19 L527.75 404.53 L528.00 404.86 L528.25 405.18 L528.50 405.49 L528.75 405.79 L529.00 406.08 L529.25 406.36 L529.50 406.63 L529.75 406.89 L530.00 407.13 L530.25 407.37 L530.50 407.59 L530.75 407.80 L531.00 407.99 L531.25 408.18 L531.50 408.35 L531.75 408.51 L532.00 408.65 L532.25 408.78 L532.50 408.90 L532.75 409.00 L533.00 409.09 L533.25 409.17 L533.50 409.25 L533.75 409.32 L534.00 409.40 L534.25 409.47 L534.50 409.54 L534.75 409.60 L535.00 409.67 L535.25 409.73 L535.50 409.79 L535.75 409.85 L536.00 409.91 L536.25 409.97 L536.50 410.02 L536.75 410.07 L537.00 410.13 L537.25 410.17 L537.50 410.22 L537.75 410.27 L538.00 410.31 L538.25 410.36 L538.50 410.40 L538.75 410.44 L539.00 410.48 L539.25 410.52 L539.50 410.56 L539.75 410.59 L540.00 410.63 L540.25 410.66 L540.50 410.69 L540.75 410.72 L541.00 410.75 L541.25 410.78 L541.50 410.81 L541.75 410.84 L542.00 410.87 L542.25 410.89 L542.50 410.92 L542.75 410.94 L543.00 410.97 L543.25 410.99 L543.50 411.01 L543.75 411.03 L544.00 411.06 L544.25 411.08 L544.50 411.10 L544.75 411.12 L545.00 411.14 L545.25 411.16 L545.50 411.18 L545.75 411.20 L546.00 411.22 L546.25 411.24 L546.50 411.26 L546.75 411.27 L547.00 411.29 L547.25 411.31 L547.50 411.33 L547.75 411.34 L548.00 411.36 L548.25 411.38 L548.50 411.39 L548.75 411.41 L549.00 411.43 L549.25 411.44 L549.50 411.46 L549.75 411.47 L550.00 411.49 L550.25 411.50 L550.50 411.52 L550.75 411.53 L551.00 411.55 L551.25 411.56 L551.50 411.57 L551.75 411.59 L552.00 411.60 L552.25 411.61 L552.50 411.63 L552.75 411.64 L553.00 411.65 L553.25 411.66 L553.50 411.68 L553.75 411.69 L554.00 411.70 L554.25 411.71 L554.50 411.72 L554.75 411.73 L555.00 411.75 L555.25 411.76 L555.50 411.77 L555.75 411.78 L556.00 411.79 L556.25 411.80 L556.50 411.81 L556.75 411.82 L557.00 411.83 L557.25 411.84 L557.50 411.85 L557.75 411.86 L558.00 411.87 L558.25 411.88 L558.50 411.89 L558.75 411.90 L559.00 411.91 L559.25 411.92 L559.50 411.93 L559.75 411.94 L560.00 411.95 L560.25 411.95 L560.50 411.96 L560.75 411.97 L561.00 411.98 L561.25 411.99 L561.50 412.00 L561.75 412.01 L562.00 412.02 L562.25 412.03 L562.50 412.03 L562.75 412.04 L563.00 412.05 L563.25 412.06 L563.50 412.07 L563.75 412.08 L564.00 412.09 L564.25 412.09 L564.50 412.10 L564.75 412.11 L565.00 412.12 L565.25 412.13 L565.50 412.14 L565.75 412.14 L566.00 412.16 L566.25 412.22 L566.50 412.39 L566.75 412.64 L567.00 412.78 L567.25 412.66 L567.50 412.42 L567.75 412.27 L568.00 412.23 L568.25 412.22 L568.50 412.23 L568.75 412.24 L569.00 412.24 L569.25 412.25 L569.50 412.26 L569.75 412.27 L570.00 412.27 L570.25 412.28 L570.50 412.29 L570.75 412.29 L571.00 412.30 L571.25 412.31 L571.50 412.32 L571.75 412.32 L572.00 412.33 L572.25 412.34 L572.50 412.34 L572.75 412.35 L573.00 412.35 L573.25 412.36 L573.50 412.37 L573.75 412.37 L574.00 412.38 L574.25 412.38 L574.50 412.39 L574.75 412.40 L575.00 412.40 L575.25 412.41 L575.50 412.41 L575.75 412.42 L576.00 412.42 L576.25 412.43 L576.50 412.43 L576.75 412.44 L577.00 412.44 L577.25 412.45 L577.50 412.45 L577.75 412.45 L578.00 412.46 L578.25 412.46 L578.50 412.47 L578.75 412.47 L579.00 412.48 L579.25 412.48 L579.50 412.48 L579.75 412.49 L580.00 412.49 L580.25 412.49 L580.50 412.50 L580.75 412.50 L581.00 412.50 L581.25 412.50 L581.50 412.50 L581.75 412.50 L582.00 412.50 L582.25 412.50 L582.50 412.50 L582.75 412.50 L583.00 412.50 L583.25 412.50 L583.50 412.50 L583.75 412.50 L584.00 412.50 L584.25 412.50 L584.50 412.50 L584.75 412.50 L585.00 412.50 L585.25 412.50 L585.50 412.50 L585.75 412.50 L586.00 412.50 L586.25 412.50 L586.50 412.50 L586.75 412.50 L587.00 412.50 L587.25 412.50 L587.50 412.50 L587.75 412.50 L588.00 412.50 L588.25 412.50 L588.50 412.50 L588.75 412.50 L589.00 412.50 L589.25 412.50 L589.50 412.50 L589.75 412.50 L590.00 412.51 L590.25 412.57 L590.50 412.76 L590.75 413.05 L591.00 413.20 L591.25 413.05 L591.50 412.76 L591.75 412.57 L592.00 412.51 L592.25 412.50 L592.50 412.50 L592.75 412.50 L593.00 412.50 L593.25 412.50 L593.50 412.50 L593.75 412.50 L594.00 412.50 L594.25 412.50 L594.50 412.50 L594.75 412.50 L595.00 412.50 L595.25 412.50 L595.50 412.50 L595.75 412.50 L596.00 412.50 L596.25 412.50 L596.50 412.50 L596.75 412.50 L597.00 412.50 L597.25 412.50 L597.50 412.50 L597.75 412.50 L598.00 412.50 L598.25 412.50 L598.50 412.50 L598.75 412.50 L599.00 412.50 L599.25 412.50 L599.50 412.50 L599.75 412.50 L600.00 412.50 L600.25 412.50 L600.50 412.50 L600.75 412.50 L601.00 412.50 L601.25 412.50 L601.50 412.50 L601.75 412.50 L602.00 412.50 L602.25 412.50 L602.50 412.50 L602.75 412.50 L603.00 412.50 L603.25 412.50 L603.50 412.50 L603.75 412.50 L604.00 412.50 L604.25 412.50 L604.50 412.50 L604.75 412.50 L605.00 412.50 L605.25 412.50 L605.50 412.50 L605.75 412.50 L606.00 412.50 L606.25 412.50 L606.50 412.50 L606.75 412.50 L607.00 412.50 L607.25 412.50 L607.50 412.50 L607.75 412.50 L608.00 412.50 L608.25 412.50 L608.50 412.50 L608.75 412.50 L609.00 412.50 L609.25 412.50 L609.50 412.50 L609.75 412.50 L610.00 412.50 L610.25 412.50 L610.50 412.50 L610.75 412.50 L611.00 412.50 L611.25 412.50 L611.50 412.50 L611.75 412.50 L612.00 412.50 L612.25 412.50 L612.50 412.50 L612.75 412.50 L613.00 412.50 L613.25 412.50 L613.50 412.50 L613.75 412.50 L614.00 412.50 L614.25 412.50 L614.50 412.50 L614.75 412.50 L615.00 412.50 L615.25 412.50 L615.50 412.50 L615.75 412.50 L616.00 412.50 L616.25 412.50 L616.50 412.50 L616.75 412.50 L617.00 412.50 L617.25 412.50 L617.50 412.50 L617.75 412.50 L618.00 412.50 L618.25 412.50 L618.50 412.50 L618.75 412.50 L619.00 412.50 L619.25 412.50 L619.50 412.50 L619.75 412.50 L620.00 412.50 L620.25 412.50 L620.50 412.50 L620.75 412.50 L621.00 412.50 L621.25 412.50 L621.50 412.50 L621.75 412.50 L622.00 412.50 L622.25 412.50 L622.50 412.50 L622.75 412.50 L623.00 412.50 L623.25 412.50 L623.50 412.50 L623.75 412.50 L624.00 412.50 L624.25 412.50 L624.50 412.50 L624.75 412.50 L625.00 412.50 L625.25 412.50 L625.50 412.50 L625.75 412.50 L626.00 412.50 L626.25 412.50 L626.50 412.50 L626.75 412.50 L627.00 412.50 L627.25 412.50 L627.50 412.50 L627.75 412.50 L628.00 412.50 L628.25 412.50 L628.50 412.50 L628.75 412.50 L629.00 412.50 L629.25 412.50 L629.50 412.50 L629.75 412.50 L630.00 412.50 L630.25 412.50 L630.50 412.50 L630.75 412.50 L631.00 412.50 L631.25 412.50 L631.50 412.50 L631.75 412.50 L632.00 412.50 L632.25 412.50 L632.50 412.50 L632.75 412.50 L633.00 412.50 L633.25 412.50 L633.50 412.50 L633.75 412.50 L634.00 412.50 L634.25 412.50 L634.50 412.50 L634.75 412.50 L635.00 412.50 L635.25 412.50 L635.50 412.50 L635.75 412.50 L636.00 412.50 L636.25 412.51 L636.50 412.52 L636.75 412.53 L637.00 412.54 L637.25 412.55 L637.50 412.56 L637.75 412.57 L638.00 412.58 L638.25 412.59 L638.50 412.60 L638.75 412.61 L639.00 412.62 L639.25 412.62 L639.50 412.63 L639.75 412.64 L640.00 412.65 L640.25 412.66 L640.50 412.67 L640.75 412.68 L641.00 412.69 L641.25 412.70 L641.50 412.71 L641.75 412.72 L642.00 412.73 L642.25 412.74 L642.50 412.75 L642.75 412.76 L643.00 412.77 L643.25 412.78 L643.50 412.79 L643.75 412.80 L644.00 412.81 L644.25 412.82 L644.50 412.83 L644.75 412.84 L645.00 412.85 L645.25 412.86 L645.50 412.87 L645.75 412.88 L646.00 412.88 L646.25 412.89 L646.50 412.90 L646.75 412.91 L647.00 412.92 L647.25 412.93 L647.50 412.94 L647.75 412.95 L648.00 412.96 L648.25 412.97 L648.50 412.98 L648.75 412.99 L649.00 413.01 L649.25 413.06 L649.50 413.20 L649.75 413.42 L650.00 413.54 L650.25 413.44 L650.50 413.24 L650.75 413.12 L651.00 413.09 L651.25 413.09 L651.50 413.10 L651.75 413.11 L652.00 413.12 L652.25 413.13 L652.50 413.13 L652.75 413.14 L653.00 413.15 L653.25 413.16 L653.50 413.17 L653.75 413.18 L654.00 413.18 L654.25 413.16 L654.50 413.06 L654.75 412.91 L655.00 412.83 L655.25 412.93 L655.50 413.10 L655.75 413.22 L656.00 413.26 L656.25 413.28 L656.50 413.29 L656.75 413.30 L657.00 413.31 L657.25 413.32 L657.50 413.33 L657.75 413.34 L658.00 413.35 L658.25 413.36 L658.50 413.37 L658.75 413.38 L659.00 413.40 L659.25 413.46 L659.50 413.62 L659.75 413.88 L660.00 414.02 L660.25 413.90 L660.50 413.66 L660.75 413.52 L661.00 413.47 L661.25 413.47 L661.50 413.48 L661.75 413.49 L662.00 413.50 L662.25 413.50 L662.50 413.50 L662.75 413.50 L663.00 413.50 L663.25 413.50 L663.50 413.50 L663.75 413.50 L664.00 413.51 L664.25 413.55 L664.50 413.68 L664.75 413.89 L665.00 414.00 L665.25 413.89 L665.50 413.68 L665.75 413.55 L666.00 413.51 L666.25 413.50 L666.50 413.50 L666.75 413.50 L667.00 413.50 L667.25 413.50 L667.50 413.50 L667.75 413.50 L668.00 413.50 L668.25 413.50 L668.50 413.50 L668.75 413.50 L669.00 413.50 L669.25 413.50 L669.50 413.50 L669.75 413.50 L670.00 413.50 L670.25 413.50 L670.50 413.50 L670.75 413.50 L671.00 413.50 L671.25 413.50 L671.50 413.50 L671.75 413.50 L672.00 413.50 L672.25 413.50 L672.50 413.50 L672.75 413.50 L673.00 413.50 L673.25 413.50 L673.50 413.50 L673.75 413.50 L674.00 413.50 L674.25 413.50 L674.50 413.50 L674.75 413.50 L675.00 413.50 L675.25 413.50 L675.50 413.50 L675.75 413.50 L676.00 413.50 L676.25 413.50 L676.50 413.50 L676.75 413.50 L677.00 413.50 L677.25 413.50 L677.50 413.50 L677.75 413.50 L678.00 413.50 L678.25 413.50 L678.50 413.50 L678.75 413.50 L679.00 413.50 L679.25 413.50 L679.50 413.50 L679.75 413.50 L680.00 413.50 L680.25 413.50 L680.50 413.50 L680.75 413.50 L681.00 413.50 L681.25 413.50 L681.50 413.50 L681.75 413.50 L682.00 413.50 L682.25 413.50 L682.50 413.50 L682.75 413.50 L683.00 413.50 L683.25 413.50 L683.50 413.50 L683.75 413.50 L684.00 413.50 L684.25 413.50 L684.50 413.50 L684.75 413.50 L685.00 413.50 L685.25 413.50 L685.50 413.50 L685.75 413.50 L686.00 413.50 L686.25 413.50 L686.50 413.50 L686.75 413.50 L687.00 413.50 L687.25 413.50 L687.50 413.50 L687.75 413.50 L688.00 413.50 L688.25 413.50 L688.50 413.50 L688.75 413.50 L689.00 413.50 L689.25 413.50 L689.50 413.50 L689.75 413.50 L690.00 413.50 L690.25 413.50 L690.50 413.50 L690.75 413.50 L691.00 413.50 L691.25 413.50 L691.50 413.50 L691.75 413.50 L692.00 413.50 L692.25 413.50 L692.50 413.50 L692.75 413.50 L693.00 413.50 L693.25 413.50 L693.50 413.50 L693.75 413.50 L694.00 413.50 L694.25 413.50 L694.50 413.50 L694.75 413.50 L695.00 413.50 L695.25 413.50 L695.50 413.50 L695.75 413.50 L696.00 413.50 L696.25 413.50 L696.50 413.50 L696.75 413.50 L697.00 413.50 L697.25 413.50 L697.50 413.50 L697.75 413.50 L698.00 413.50 L698.25 413.50 L698.50 413.50 L698.75 413.50 L699.00 413.50 L699.25 413.50 L699.50 413.50 L699.75 413.50 L700.00 413.50 L700.25 413.50 L700.50 413.50 L700.75 413.50 L701.00 413.50 L701.25 413.50 L701.50 413.50 L701.75 413.50 L702.00 413.50 L702.25 413.50 L702.50 413.50 L702.75 413.50 L703.00 413.50 L703.25 413.50 L703.50 413.50 L703.75 413.50 L704.00 413.50 L704.25 413.50 L704.50 413.50 L704.75 413.50 L705.00 413.50 L705.25 413.50 L705.50 413.50 L705.75 413.50 L706.00 413.50 L706.25 413.50 L706.50 413.50 L706.75 413.50 L707.00 413.50 L707.25 413.50 L707.50 413.50 L707.75 413.50 L708.00 413.50 L708.25 413.50 L708.50 413.50 L708.75 413.50 L709.00 413.50 L709.25 413.50 L709.50 413.50 L709.75 413.50 L710.00 413.50 L710.25 413.50 L710.50 413.50 L710.75 413.50 L711.00 413.50 L711.25 413.50 L711.50 413.50 L711.75 413.50 L712.00 413.50 L712.25 413.50 L712.50 413.50 L712.75 413.50 L713.00 413.50 L713.25 413.50 L713.50 413.50 L713.75 413.50 L714.00 413.50 L714.25 413.50 L714.50 413.50 L714.75 413.50 L715.00 413.50 L715.25 413.50 L715.50 413.50 L715.75 413.50 L716.00 413.50 L716.25 413.50 L716.50 413.50 L716.75 413.50 L717.00 413.50 L717.25 413.50 L717.50 413.50 L717.75 413.50 L718.00 413.50 L718.25 413.50 L718.50 413.50 L718.75 413.50 L719.00 413.50 L719.25 413.50 L719.50 413.50 L719.75 413.50 L720.00 413.50 L720.25 413.50 L720.50 413.50 L720.75 413.50 L721.00 413.50 L721.25 413.50 L721.50 413.50 L721.75 413.50 L722.00 413.50 L722.25 413.50 L722.50 413.50 L722.75 413.50 L723.00 413.50 L723.25 413.50 L723.50 413.50 L723.75 413.50 L724.00 413.50 L724.25 413.50 L724.50 413.50 L724.75 413.50 L725.00 413.50 L725.25 413.50 L725.50 413.50 L725.75 413.50 L726.00 413.50 L726.25 413.50 L726.50 413.50 L726.75 413.50 L727.00 413.50 L727.25 413.50 L727.50 413.50 L727.75 413.50 L728.00 413.50 L728.25 413.50 L728.50 413.50 L728.75 413.50 L729.00 413.50 L729.25 413.50 L729.50 413.50 L729.75 413.50 L730.00 413.50 L730.25 413.50 L730.50 413.50 L730.75 413.50 L731.00 413.50 L731.25 413.50 L731.50 413.50 L731.75 413.50 L732.00 413.50 L732.25 413.50 L732.50 413.50 L732.75 413.50 L733.00 413.50 L733.25 413.50 L733.50 413.50 L733.75 413.50 L734.00 413.50 L734.25 413.50 L734.50 413.50 L734.75 413.50 L735.00 413.50 L735.25 413.50 L735.50 413.50 L735.75 413.50 L736.00 413.50 L736.25 413.50 L736.50 413.50 L736.75 413.50 L737.00 413.50 L737.25 413.50 L737.50 413.50 L737.75 413.50 L738.00 413.50 L738.25 413.50 L738.50 413.50 L738.75 413.50 L739.00 413.50 L739.25 413.50 L739.50 413.50 L739.75 413.50 L740.00 413.50 L740.25 413.50 L740.50 413.50 L740.75 413.50 L741.00 413.50 L741.25 413.50 L741.50 413.50 L741.75 413.50 L742.00 413.50 L742.25 413.50 L742.50 413.50 L742.75 413.50 L743.00 413.50 L743.25 413.50 L743.50 413.50 L743.75 413.50 L744.00 413.50 L744.25 413.50 L744.50 413.50 L744.75 413.50 L745.00 413.50 L745.25 413.50 L745.50 413.50 L745.75 413.50 L746.00 413.50 L746.25 413.50 L746.50 413.50 L746.75 413.50 L747.00 413.50 L747.25 413.50 L747.50 413.50 L747.75 413.50 L748.00 413.50 L748.25 413.50 L748.50 413.50 L748.75 413.50 L749.00 413.50 L749.25 413.50 L749.50 413.50 L749.75 413.50 L750.00 413.50 L750.25 413.50 L750.50 413.50 L750.75 413.50 L751.00 413.50 L751.25 413.50 L751.50 413.50 L751.75 413.50 L752.00 413.50 L752.25 413.50 L752.50 413.50 L752.75 413.50 L753.00 413.50 L753.25 413.50 L753.50 413.50 L753.75 413.50 L754.00 413.50 L754.25 413.50 L754.50 413.50 L754.75 413.50 L755.00 413.50 L755.25 413.50 L755.50 413.50 L755.75 413.50 L756.00 413.50 L756.25 413.50 L756.50 413.50 L756.75 413.50 L757.00 413.50 L757.25 413.50 L757.50 413.50 L757.75 413.50 L758.00 413.50 L758.25 413.50 L758.50 413.50 L758.75 413.50 L759.00 413.50 L759.25 413.50 L759.50 413.50 L759.75 413.50 L760.00 413.50 L760.25 413.50 L760.50 413.50 L760.75 413.50 L761.00 413.50 L761.25 413.50 L761.50 413.50 L761.75 413.50 L762.00 413.50 L762.25 413.50 L762.50 413.50 L762.75 413.50 L763.00 413.50 L763.25 413.50 L763.50 413.50 L763.75 413.50 L764.00 413.50 L764.25 413.50 L764.50 413.50 L764.75 413.50 L765.00 413.50 L765.25 413.50 L765.50 413.50 L765.75 413.50 L766.00 413.50 L766.25 413.50 L766.50 413.50 L766.75 413.50 L767.00 413.50 L767.25 413.50 L767.50 413.50 L767.75 413.50 L768.00 413.50 L768.25 413.50 L768.50 413.50 L768.75 413.50 L769.00 413.50 L769.25 413.50 L769.50 413.50 L769.75 413.50 L770.00 413.50 L770.25 413.50 L770.50 413.50 L770.75 413.50 L771.00 413.50 L771.25 413.50 L771.50 413.50 L771.75 413.50 L772.00 413.50 L772.25 413.50 L772.50 413.50 L772.75 413.50 L773.00 413.50 L773.25 413.50 L773.50 413.50 L773.75 413.50 L774.00 413.50 L774.25 413.50 L774.50 413.50 L774.75 413.50 L775.00 413.50 L775.25 413.50 L775.50 413.50 L775.75 413.50 L776.00 413.50 L776.25 413.50 L776.50 413.50 L776.75 413.50 L777.00 413.50 L777.25 413.50 L777.50 413.50 L777.75 413.50 L778.00 413.50 L778.25 413.50 L778.50 413.50 L778.75 413.50 L779.00 413.50 L779.25 413.50 L779.50 413.50 L779.75 413.50 L780.00 413.50 L780.25 413.50 L780.50 413.50 L780.75 413.50 L781.00 413.50 L781.25 413.50 L781.50 413.50 L781.75 413.50 L782.00 413.50 L782.25 413.50 L782.50 413.50 L782.75 413.50 L783.00 413.50 L783.25 413.50 L783.50 413.50 L783.75 413.50 L784.00 413.50 L784.25 413.50 L784.50 413.50 L784.75 413.50 L785.00 413.50 L785.25 413.50 L785.50 413.50 L785.75 413.50 L786.00 413.50 L786.25 413.50 L786.50 413.50 L786.75 413.50 L787.00 413.50 L787.25 413.50 L787.50 413.50 L787.75 413.50 L788.00 413.50 L788.25 413.50 L788.50 413.50 L788.75 413.50 L789.00 413.50 L789.25 413.50 L789.50 413.50 L789.75 413.50 L790.00 413.50 L790.25 413.50 L790.50 413.50 L790.75 413.50 L791.00 413.50 L791.25 413.50 L791.50 413.50 L791.75 413.50 L792.00 413.50 L792.25 413.50 L792.50 413.50 L792.75 413.50 L793.00 413.50 L793.25 413.50 L793.50 413.50 L793.75 413.50 L794.00 413.50 L794.25 413.50 L794.50 413.50 L794.75 413.50 L795.00 413.50 L795.25 413.50 L795.50 413.50 L795.75 413.50 L796.00 413.50 L796.25 413.50 L796.50 413.50 L796.75 413.50 L797.00 413.50 L797.25 413.50 L797.50 413.50 L797.75 413.50 L798.00 413.50 L798.25 413.50 L798.50 413.50 L798.75 413.50 L799.00 413.50 L799.25 413.50 L799.50 413.50 L799.75 413.50 L800.00 413.50 L800.25 413.50 L800.50 413.50 L800.75 413.50 L801.00 413.50 L801.25 413.50 L801.50 413.50 L801.75 413.50 L802.00 413.50 L802.25 413.50 L802.50 413.50 L802.75 413.50 L803.00 413.50 L803.25 413.50 L803.50 413.50 L803.75 413.50 L804.00 413.50 L804.25 413.50 L804.50 413.50 L804.75 413.50 L805.00 413.50 L805.25 413.50 L805.50 413.50 L805.75 413.50 L806.00 413.50 L806.25 413.50 L806.50 413.50 L806.75 413.50 L807.00 413.50 L807.25 413.50 L807.50 413.50 L807.75 413.50 L808.00 413.50 L808.25 413.50 L808.50 413.50 L808.75 413.50 L809.00 413.50 L809.25 413.50 L809.50 413.50 L809.75 413.50 L810.00 413.50 L810.25 413.50 L810.50 413.50 L810.75 413.50 L811.00 413.50 L811.25 413.50 L811.50 413.50 L811.75 413.50 L812.00 413.50 L812.25 413.50 L812.50 413.50 L812.75 413.50 L813.00 413.50 L813.25 413.50 L813.50 413.50 L813.75 413.50 L814.00 413.50 L814.25 413.50 L814.50 413.50 L814.75 413.50 L815.00 413.50 L815.25 413.50 L815.50 413.50 L815.75 413.50 L816.00 413.50 L816.25 413.50 L816.50 413.50 L816.75 413.50 L817.00 413.50 L817.25 413.50 L817.50 413.50 L817.75 413.50 L818.00 413.50 L818.25 413.50 L818.50 413.50 L818.75 413.50 L819.00 413.50 L819.25 413.50 L819.50 413.50 L819.75 413.50 L820.00 413.50 L820.25 413.50 L820.50 413.50 L820.75 413.50 L821.00 413.50 L821.25 413.50 L821.50 413.50 L821.75 413.50 L822.00 413.50 L822.25 413.50 L822.50 413.50 L822.75 413.50 L823.00 413.50 L823.25 413.50 L823.50 413.50 L823.75 413.50 L824.00 413.50 L824.25 413.50 L824.50 413.50 L824.75 413.50 L825.00 413.50 L825.25 413.50 L825.50 413.50 L825.75 413.50 L826.00 413.50 L826.25 413.50 L826.50 413.50 L826.75 413.50 L827.00 413.50 L827.25 413.50 L827.50 413.50 L827.75 413.50 L828.00 413.50 L828.25 413.50 L828.50 413.50 L828.75 413.50 L829.00 413.50 L829.25 413.50 L829.50 413.50 L829.75 413.50 L830.00 413.50 L830.25 413.50 L830.50 413.50 L830.75 413.50 L831.00 413.50 L831.25 413.50 L831.50 413.50 L831.75 413.50 L832.00 413.50 L832.25 413.50 L832.50 413.50 L832.75 413.50 L833.00 413.50 L833.25 413.50 L833.50 413.50 L833.75 413.50 L834.00 413.50" stroke="#000" stroke-width="1.2" fill="none" stroke-linejoin="round"/>
<g transform="translate(39.4 417) scale(0.86 1)"><text x="-8.10" y="0" font-family="Liberation Sans, sans-serif" font-size="14.2" fill="#000" stroke="#000" stroke-width="0.2">0</text></g>
<g transform="translate(39.4 366) scale(0.86 1)"><text x="-16.19 -8.10" y="0" font-family="Liberation Sans, sans-serif" font-size="14.2" fill="#000" stroke="#000" stroke-width="0.2">25</text></g>
<g transform="translate(39.4 315) scale(0.86 1)"><text x="-16.19 -8.10" y="0" font-family="Liberation Sans, sans-serif" font-size="14.2" fill="#000" stroke="#000" stroke-width="0.2">50</text></g>
<g transform="translate(39.4 264) scale(0.86 1)"><text x="-16.19 -8.10" y="0" font-family="Liberation Sans, sans-serif" font-size="14.2" fill="#000" stroke="#000" stroke-width="0.2">75</text></g>
<g transform="translate(39.4 213) scale(0.86 1)"><text x="-24.29 -16.19 -8.10" y="0" font-family="Liberation Sans, sans-serif" font-size="14.2" fill="#000" stroke="#000" stroke-width="0.2">100</text><rect x="-23.88" y="-2.08" width="2.93" height="2.91" fill="#fff"/><rect x="-19.24" y="-2.08" width="2.71" height="2.91" fill="#fff"/></g>
<g transform="translate(39.4 162) scale(0.86 1)"><text x="-24.29 -16.19 -8.10" y="0" font-family="Liberation Sans, sans-serif" font-size="14.2" fill="#000" stroke="#000" stroke-width="0.2">125</text><rect x="-23.88" y="-2.08" width="2.93" height="2.91" fill="#fff"/><rect x="-19.24" y="-2.08" width="2.71" height="2.91" fill="#fff"/></g>
<g transform="translate(39.4 111) scale(0.86 1)"><text x="-24.29 -16.19 -8.10" y="0" font-family="Liberation Sans, sans-serif" font-size="14.2" fill="#000" stroke="#000" stroke-width="0.2">150</text><rect x="-23.88" y="-2.08" width="2.93" height="2.91" fill="#fff"/><rect x="-19.24" y="-2.08" width="2.71" height="2.91" fill="#fff"/></g>
<g transform="translate(39.4 60) scale(0.86 1)"><text x="-24.29 -16.19 -8.10" y="0" font-family="Liberation Sans, sans-serif" font-size="14.2" fill="#000" stroke="#000" stroke-width="0.2">175</text><rect x="-23.88" y="-2.08" width="2.93" height="2.91" fill="#fff"/><rect x="-19.24" y="-2.08" width="2.71" height="2.91" fill="#fff"/></g>
<g transform="translate(49.8 452) scale(0.86 1)"><text x="-4.05" y="0" font-family="Liberation Sans, sans-serif" font-size="14.2" fill="#000" stroke="#000" stroke-width="0.2">0</text></g>
<g transform="translate(206.9 452) scale(0.86 1)"><text x="-4.05" y="0" font-family="Liberation Sans, sans-serif" font-size="14.2" fill="#000" stroke="#000" stroke-width="0.2">5</text></g>
<g transform="translate(363.9 452) scale(0.86 1)"><text x="-8.10 0.00" y="0" font-family="Liberation Sans, sans-serif" font-size="14.2" fill="#000" stroke="#000" stroke-width="0.2">10</text><rect x="-7.68" y="-2.08" width="2.93" height="2.91" fill="#fff"/><rect x="-3.04" y="-2.08" width="2.71" height="2.91" fill="#fff"/></g>
<g transform="translate(520.9 452) scale(0.86 1)"><text x="-8.10 0.00" y="0" font-family="Liberation Sans, sans-serif" font-size="14.2" fill="#000" stroke="#000" stroke-width="0.2">15</text><rect x="-7.68" y="-2.08" width="2.93" height="2.91" fill="#fff"/><rect x="-3.04" y="-2.08" width="2.71" height="2.91" fill="#fff"/></g>
<g transform="translate(678.0 452) scale(0.86 1)"><text x="-8.10 0.00" y="0" font-family="Liberation Sans, sans-serif" font-size="14.2" fill="#000" stroke="#000" stroke-width="0.2">20</text></g>
<g font-family="Liberation Sans, sans-serif" font-size="12" fill="#000" stroke="#000" stroke-width="0.2">
<text transform="translate(2 15) scale(0.94 1)">mAU</text>
<text transform="translate(834.3 452) scale(0.92 1)" text-anchor="end">min</text>
</g>
<g transform="translate(220.5 239.5) rotate(-90)">
<g transform="scale(0.9300 1)"><text x="0.00 7.32 11.08 18.39 25.71" y="0" font-family="Liberation Sans, sans-serif" font-size="12.8" fill="#000" stroke="#000" stroke-width="0.3">5.305</text></g>
<text transform="translate(38.25 -1.5) scale(0.81 1)" x="0 15.93 31.85" y="0" font-family="'Liberation Serif', 'Noto Serif CJK SC', serif" font-size="13.5" fill="#000">安赛蜜</text>
</g>
<g transform="translate(253.5 302.2) rotate(-90)">
<g transform="scale(0.9765 1)"><text x="0.00 7.32 11.08 18.39 25.71" y="0" font-family="Liberation Sans, sans-serif" font-size="12.8" fill="#000" stroke="#000" stroke-width="0.3">6.360</text></g>
<text transform="translate(35.55 -1.5) scale(0.81 1)" x="0 15.43 30.86" y="0" font-family="'Liberation Serif', 'Noto Serif CJK SC', serif" font-size="13.5" fill="#000">苯甲酸</text>
</g>
<g transform="translate(339.9 263.2) rotate(-90)">
<g transform="scale(0.9486 1)"><text x="0.00 7.32 11.08 18.39 25.71" y="0" font-family="Liberation Sans, sans-serif" font-size="12.8" fill="#000" stroke="#000" stroke-width="0.3">9.077</text></g>
<text transform="translate(40.05 -1.5) scale(0.81 1)" x="0 16.42 32.84" y="0" font-family="'Liberation Serif', 'Noto Serif CJK SC', serif" font-size="13.5" fill="#000">山梨酸</text>
</g>
<g transform="translate(402.4 360.8) rotate(-90)">
<g transform="scale(0.9579 1)"><text x="0.00 7.32 14.64 18.39 25.71 33.03" y="0" font-family="Liberation Sans, sans-serif" font-size="12.8" fill="#000" stroke="#000" stroke-width="0.3">11.096</text><rect x="0.38" y="-1.88" width="2.64" height="2.62" fill="#fff"/><rect x="4.56" y="-1.88" width="2.44" height="2.62" fill="#fff"/><rect x="7.69" y="-1.88" width="2.64" height="2.62" fill="#fff"/><rect x="11.88" y="-1.88" width="2.44" height="2.62" fill="#fff"/></g>
<text transform="translate(46.15 -1.5) scale(0.81 1)" x="0 15.62 31.23" y="0" font-family="'Liberation Serif', 'Noto Serif CJK SC', serif" font-size="13.5" fill="#000">糖精钠</text>
</g>
<g transform="translate(521.5 360.7) rotate(-90)">
<g transform="scale(0.9532 1)"><text x="0.00 7.32 14.64 18.39 25.71 33.03" y="0" font-family="Liberation Sans, sans-serif" font-size="12.8" fill="#000" stroke="#000" stroke-width="0.3">14.883</text><rect x="0.38" y="-1.88" width="2.64" height="2.62" fill="#fff"/><rect x="4.56" y="-1.88" width="2.44" height="2.62" fill="#fff"/></g>
<text transform="translate(44.85 -1.5) scale(0.81 1)" x="0 16.05 32.10 48.15" y="0" font-family="'Liberation Serif', 'Noto Serif CJK SC', serif" font-size="13.5" fill="#000">脱氢乙酸</text>
</g>
</svg>
</body></html>
